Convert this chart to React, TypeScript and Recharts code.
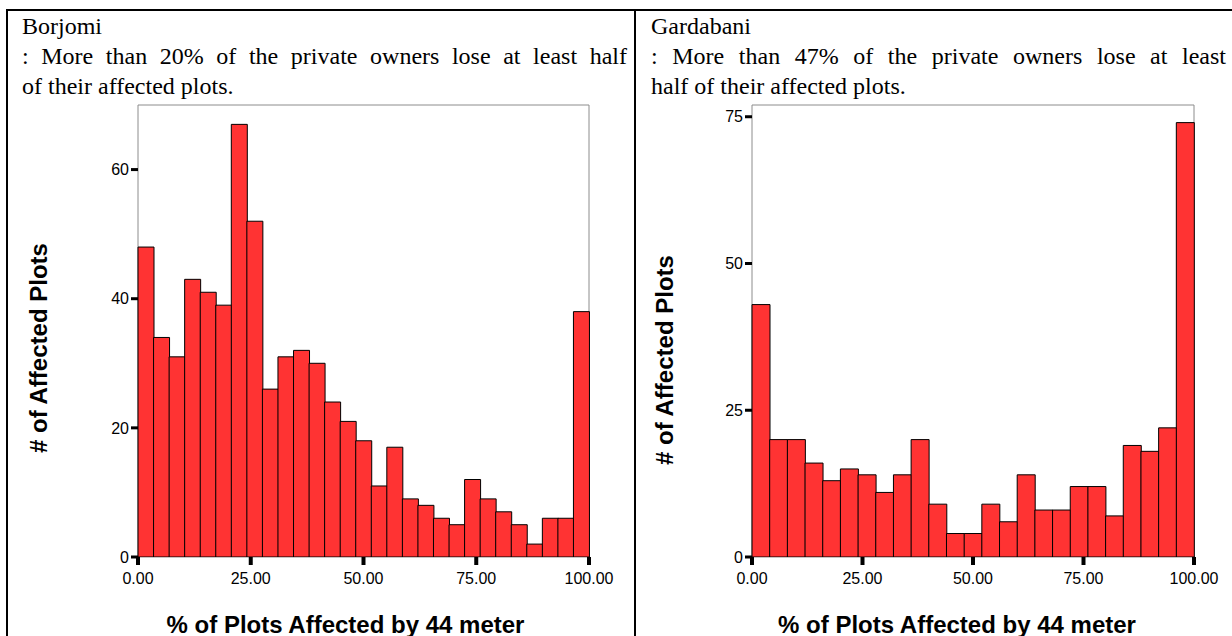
import React from 'react';
import { BarChart, Bar, XAxis, YAxis, ReferenceArea, Label } from 'recharts';

// Plot counts per bin (bins span 0–100 % in equal widths)
const borjomiCounts = [48, 34, 31, 43, 41, 39, 67, 52, 26, 31, 32, 30, 24, 21, 18, 11, 17, 9, 8, 6, 5, 12, 9, 7, 5, 2, 6, 6, 38];
const gardabaniCounts = [43, 20, 20, 16, 13, 15, 14, 11, 14, 20, 9, 4, 4, 9, 6, 14, 8, 8, 12, 12, 7, 19, 18, 22, 74];

const xTicks = [0, 25, 50, 75, 100];
const xTickLabels = ['0.00', '25.00', '50.00', '75.00', '100.00'];
const borjomiYTicks = [0, 20, 40, 60];
const gardabaniYTicks = [0, 25, 50, 75];

const xTitle = '% of Plots Affected by 44 meter';
const yTitle = '# of Affected Plots';

const SANS = '"Liberation Sans", Arial, sans-serif';
const SERIF = '"Liberation Serif", "Times New Roman", serif';

type HistProps = {
  counts: number[];
  yMax: number;
  yTicks: number[];
  width: number;
  height: number;
  marginTop: number;
  marginRight: number;
  yAxisWidth: number;
  xAxisHeight: number;
  yTitleX: number;
  yTitleY: number;
  xTitleShift: number;
};

function Histogram(p: HistProps) {
  const n = p.counts.length;
  // each bin keeps its index (band axis) and its midpoint in percent (number axis)
  const data = p.counts.map((count, bin) => ({ bin, mid: ((bin + 0.5) * 100) / n, count }));
  return (
    <BarChart
      width={p.width}
      height={p.height}
      data={data}
      margin={{ top: p.marginTop, right: p.marginRight, left: 0, bottom: 0 }}
      barCategoryGap={0}
      barGap={0}
    >
      <XAxis xAxisId="bins" dataKey="bin" type="category" hide height={0} />
      <XAxis
        xAxisId="pct"
        dataKey="mid"
        type="number"
        domain={[0, 100]}
        allowDataOverflow
        ticks={xTicks}
        interval={0}
        height={p.xAxisHeight}
        axisLine={false}
        tickLine={{ stroke: '#000', strokeWidth: 4 }}
        tickSize={8}
        tickMargin={8}
        tick={{ fill: '#000', fontSize: 16, fontFamily: SANS }}
        tickFormatter={(v: number) => xTickLabels[xTicks.indexOf(v)]}
      >
        <Label
          content={(props: any) => {
            const vb = props.viewBox;
            return (
              <text
                x={vb.x + vb.width / 2 + p.xTitleShift}
                y={p.height - 3}
                textAnchor="middle"
                fontFamily={SANS}
                fontWeight="bold"
                fontSize={24}
                fill="#000"
              >
                {xTitle}
              </text>
            );
          }}
        />
      </XAxis>
      <YAxis
        type="number"
        domain={[0, p.yMax]}
        allowDataOverflow
        ticks={p.yTicks}
        interval={0}
        width={p.yAxisWidth}
        axisLine={false}
        tickLine={{ stroke: '#000', strokeWidth: 3 }}
        tickSize={7}
        tickMargin={2}
        tick={{ fill: '#000', fontSize: 16, fontFamily: SANS }}
      >
        <Label
          content={() => (
            <text
              x={p.yTitleX}
              y={p.yTitleY}
              transform={`rotate(-90, ${p.yTitleX}, ${p.yTitleY})`}
              textAnchor="middle"
              fontFamily={SANS}
              fontWeight="bold"
              fontSize={24}
              fill="#000"
            >
              {yTitle}
            </text>
          )}
        />
      </YAxis>
      <ReferenceArea
        xAxisId="pct"
        x1={0}
        x2={100}
        y1={0}
        y2={p.yMax}
        fill="none"
        stroke="#8c8c8c"
        strokeWidth={1}
        ifOverflow="visible"
      />
      <Bar
        xAxisId="bins"
        dataKey="count"
        fill="#ff3333"
        stroke="#000"
        strokeWidth={1}
        isAnimationActive={false}
      />
    </BarChart>
  );
}

const lineStyle: React.CSSProperties = {
  fontFamily: SERIF,
  fontSize: 24,
  lineHeight: '30px',
  height: 30,
  whiteSpace: 'nowrap',
  color: '#000',
};
const justified: React.CSSProperties = {
  ...lineStyle,
  textAlign: 'justify',
  textAlignLast: 'justify',
  whiteSpace: 'normal',
};

function Caption({ left, width, lines }: { left: number; width: number; lines: string[] }) {
  return (
    <div style={{ position: 'absolute', left, top: 11, width }}>
      <div style={lineStyle}>{lines[0]}</div>
      <div style={justified}>{lines[1]}</div>
      <div style={lineStyle}>{lines[2]}</div>
    </div>
  );
}

export default function App() {
  return (
    <div
      style={{
        position: 'absolute',
        left: 0,
        top: 0,
        width: 1232,
        height: 636,
        background: '#fff',
        overflow: 'hidden',
      }}
    >
      {/* table rules */}
      <div style={{ position: 'absolute', left: 6, top: 9, width: 1226, height: 2, background: '#000' }} />
      <div style={{ position: 'absolute', left: 6, top: 9, width: 2, height: 627, background: '#000' }} />
      <div style={{ position: 'absolute', left: 634, top: 9, width: 2, height: 627, background: '#000' }} />

      <Caption
        left={22}
        width={605}
        lines={['Borjomi', ': More than 20% of the private owners lose at least half', 'of their affected plots.']}
      />
      <Caption
        left={651}
        width={575}
        lines={['Gardabani', ': More than 47% of the private owners lose at least', 'half of their affected plots.']}
      />

      <div style={{ position: 'absolute', left: 0, top: 0 }}>
        <Histogram
          counts={borjomiCounts}
          yMax={70}
          yTicks={borjomiYTicks}
          width={634}
          height={636}
          marginTop={105}
          marginRight={45}
          yAxisWidth={138}
          xAxisHeight={79}
          yTitleX={47}
          yTitleY={348}
          xTitleShift={-18}
        />
      </div>
      <div style={{ position: 'absolute', left: 636, top: 0 }}>
        <Histogram
          counts={gardabaniCounts}
          yMax={77}
          yTicks={gardabaniYTicks}
          width={596}
          height={636}
          marginTop={105}
          marginRight={38}
          yAxisWidth={116}
          xAxisHeight={79}
          yTitleX={37}
          yTitleY={360}
          xTitleShift={-16}
        />
      </div>
    </div>
  );
}
